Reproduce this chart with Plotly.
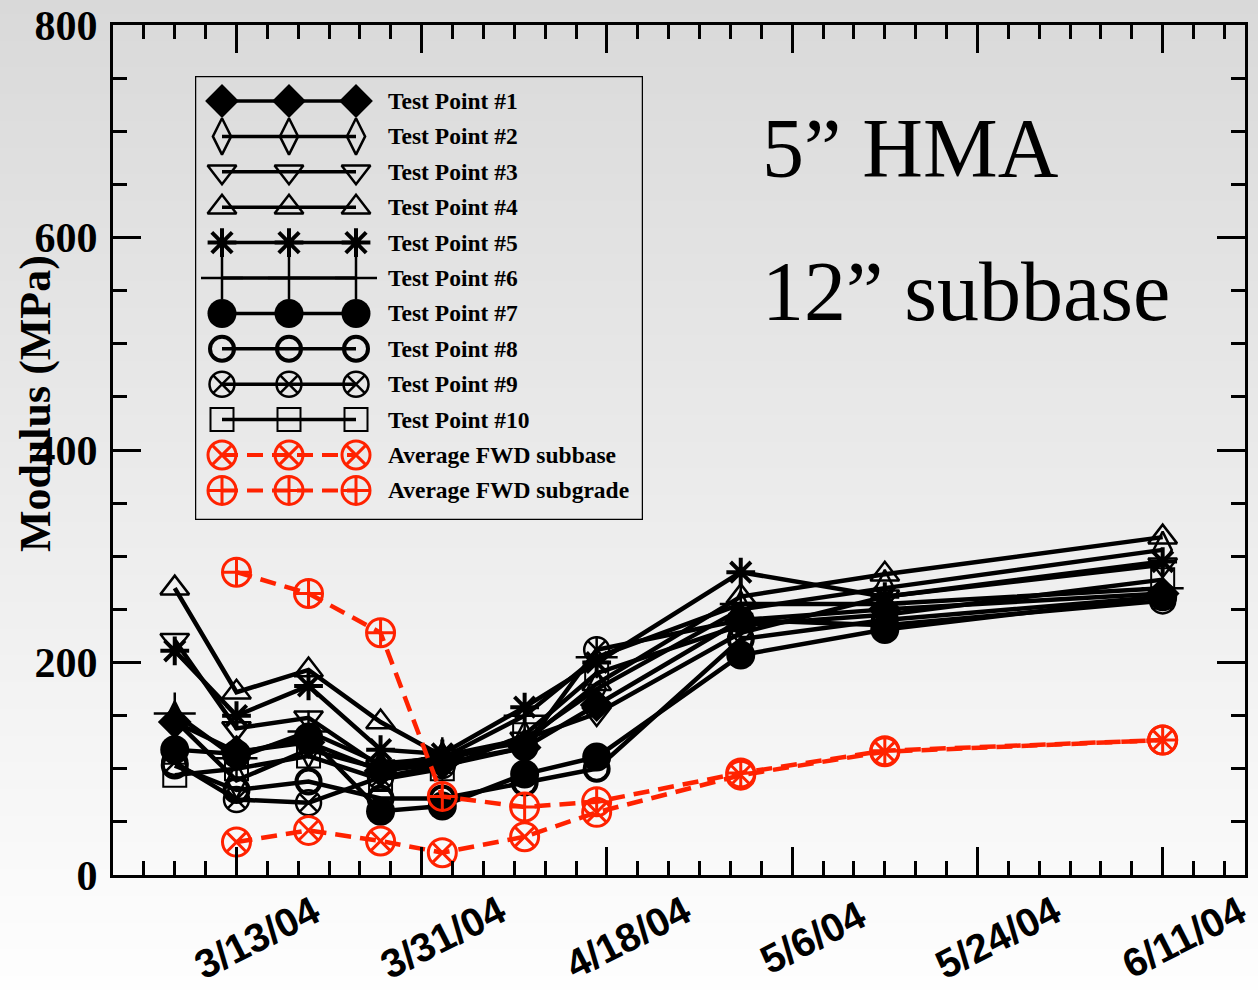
import base64
import struct
import zlib

import plotly.graph_objects as go

# ---------------- data ----------------
dates = ["2004-03-07", "2004-03-13", "2004-03-20", "2004-03-27", "2004-04-02",
         "2004-04-10", "2004-04-17", "2004-05-01", "2004-05-15", "2004-06-11"]
fwd_dates = dates[1:]

tp1 = [144, 116, 125, 98, 105, 120, 160, 240, 250, 265]
tp2 = [146, 89, 118, 100, 108, 128, 175, 250, 270, 306]
tp3 = [221, 138, 148, 102, 112, 128, 152, 228, 262, 292]
tp4 = [270, 172, 193, 144, 112, 125, 180, 262, 283, 318]
tp5 = [211, 150, 178, 118, 114, 158, 200, 285, 262, 295]
tp6 = [152, 110, 135, 105, 110, 150, 205, 255, 255, 270]
tp7 = [118, 114, 130, 60, 65, 95, 111, 207, 231, 262]
tp8 = [103, 80, 88, 72, 72, 87, 100, 222, 240, 262]
tp9 = [106, 71, 68, 92, 103, 120, 212, 240, 235, 258]
tp10 = [94, 100, 112, 90, 100, 132, 190, 235, 245, 278]

fwd_subbase = [31, 42, 32, 21, 36, 59, 94, 116, 127]
fwd_subgrade = [285, 265, 228, 74, 64, 69, 96, 117, 127]

series_names = ["Test Point #1", "Test Point #2", "Test Point #3", "Test Point #4",
                "Test Point #5", "Test Point #6", "Test Point #7", "Test Point #8",
                "Test Point #9", "Test Point #10", "Average FWD subbase",
                "Average FWD subgrade"]

tick_dates = ["2004-03-13", "2004-03-31", "2004-04-18", "2004-05-06", "2004-05-24", "2004-06-11"]
tick_labels = ["3/13/04", "3/31/04", "4/18/04", "5/6/04", "5/24/04", "6/11/04"]

# ---------------- styles ----------------
BLACK = "black"
RED = "#ff2200"
styles = [
    dict(symbol="diamond", size=26, color=BLACK, lw=0),
    dict(symbol="diamond-tall-open", size=26, color=BLACK, lw=2.5),
    dict(symbol="triangle-down-open", size=25, color=BLACK, lw=2.5),
    dict(symbol="triangle-up-open", size=25, color=BLACK, lw=2.5),
    dict(symbol="asterisk-open", size=24, color=BLACK, lw=4),
    dict(symbol="cross-thin-open", size=30, color=BLACK, lw=2.5),
    dict(symbol="circle", size=29, color=BLACK, lw=0),
    dict(symbol="circle-open", size=24, color=BLACK, lw=4),
    dict(symbol="circle-x-open", size=25, color=BLACK, lw=2.5),
    dict(symbol="square-open", size=23, color=BLACK, lw=2),
    dict(symbol="circle-x-open", size=28, color=RED, lw=3),
    dict(symbol="circle-cross-open", size=28, color=RED, lw=3),
]

all_y = [tp1, tp2, tp3, tp4, tp5, tp6, tp7, tp8, tp9, tp10, fwd_subbase, fwd_subgrade]
all_x = [dates] * 10 + [fwd_dates, fwd_dates]

fig = go.Figure()

for i, (xs, ys, st) in enumerate(zip(all_x, all_y, styles)):
    red = i >= 10
    fig.add_trace(go.Scatter(
        x=xs, y=ys, mode="lines+markers", name=series_names[i], showlegend=False,
        line=dict(color=st["color"], width=4.5 if red else 4.5,
                  dash="16px,9px" if red else "solid"),
        marker=dict(symbol=st["symbol"], size=st["size"], color=st["color"],
                    line=dict(color=st["color"], width=st["lw"])),
        cliponaxis=False,
    ))

# ---------------- custom legend (overlay axes) ----------------
leg_x = [222, 289, 356]
row_y0, row_dy = 101, 35.4
for i, st in enumerate(styles):
    yy = row_y0 + i * row_dy
    red = i >= 10
    fig.add_trace(go.Scatter(
        x=leg_x, y=[yy] * 3, xaxis="x2", yaxis="y2", mode="lines+markers",
        showlegend=False, hoverinfo="skip",
        line=dict(color=st["color"], width=4 if red else 3.5,
                  dash="16px,9px" if red else "solid"),
        marker=dict(symbol=st["symbol"], size=st["size"], color=st["color"],
                    line=dict(color=st["color"], width=st["lw"])),
    ))

annotations = []
for i, name in enumerate(series_names):
    annotations.append(dict(
        x=386, y=row_y0 + i * row_dy, xref="x2", yref="y2", text=name,
        showarrow=False, xanchor="left", yanchor="middle",
        font=dict(family="Liberation Serif", size=23.5, color="black", weight="bold")))

# x tick labels (rotated)
for d, lab in zip(tick_dates, tick_labels):
    annotations.append(dict(
        x=d, y=0, xref="x", yref="y", text=lab, showarrow=False,
        xanchor="center", yanchor="middle", xshift=21, yshift=-62, textangle=-27,
        font=dict(family="Liberation Sans", size=40, color="black", weight="bold")))

# y axis title
annotations.append(dict(
    x=0, y=0.554, xref="paper", yref="paper", text="Modulus (MPa)", showarrow=False,
    xanchor="center", yanchor="middle", xshift=-78, textangle=-90,
    font=dict(family="Liberation Serif", size=44, color="black", weight="bold")))

# big text
annotations.append(dict(
    x=0.5716, y=0.855, xref="paper", yref="paper", text="5\u201d HMA", showarrow=False,
    xanchor="left", yanchor="middle",
    font=dict(family="Liberation Serif", size=84, color="black")))
annotations.append(dict(
    x=0.5716, y=0.686, xref="paper", yref="paper", text="12\u201d subbase", showarrow=False,
    xanchor="left", yanchor="middle",
    font=dict(family="Liberation Serif", size=84, color="black")))

# ---------------- gradient background as PNG ----------------
def png_gray(vals, width=2):
    raw = b"".join(b"\x00" + bytes([v]) * width for v in vals)

    def chunk(t, d):
        return struct.pack(">I", len(d)) + t + d + struct.pack(">I", zlib.crc32(t + d) & 0xffffffff)

    ihdr = struct.pack(">IIBBBBB", width, len(vals), 8, 0, 0, 0, 0)
    return (b"\x89PNG\r\n\x1a\n" + chunk(b"IHDR", ihdr) +
            chunk(b"IDAT", zlib.compress(raw)) + chunk(b"IEND", b""))


H = 990
grad = [int(round(217 + (254 - 217) * (r / (H - 1)))) for r in range(H)]
uri = "data:image/png;base64," + base64.b64encode(png_gray(grad)).decode()

L, R, T, B = 113, 13, 25, 115
PW, PH = 1258 - L - R, 990 - T - B

fig.update_layout(
    width=1258, height=990,
    margin=dict(l=L, r=R, t=T, b=B, autoexpand=False),
    paper_bgcolor="white", plot_bgcolor="rgba(0,0,0,0)",
    images=[dict(source=uri, xref="paper", yref="paper", x=-L / PW, y=1 + T / PH,
                 sizex=1258 / PW, sizey=990 / PH, sizing="stretch",
                 xanchor="left", yanchor="top", layer="below")],
    xaxis=dict(type="date", range=["2004-03-01", "2004-06-19"], showline=True,
               linewidth=3, linecolor="black", mirror="ticks", ticks="inside",
               ticklen=28, tickwidth=3, tickcolor="black", tick0="2004-03-13",
               dtick=18 * 86400000, showticklabels=False, showgrid=False, zeroline=False,
               automargin=False,
               minor=dict(dtick=3 * 86400000, tick0="2004-03-13", ticks="inside",
                          ticklen=14, tickwidth=3, tickcolor="black", showgrid=False)),
    yaxis=dict(range=[0, 800], showline=True, linewidth=3, linecolor="black",
               mirror="ticks", ticks="inside", ticklen=28, tickwidth=3,
               tickcolor="black", tick0=0, dtick=200, showgrid=False, zeroline=False,
               automargin=False,
               tickfont=dict(family="Liberation Serif", size=42, color="black", weight="bold"),
               ticklabelstandoff=4,
               minor=dict(dtick=50, ticks="inside", ticklen=14, tickwidth=3,
                          tickcolor="black", showgrid=False)),
    xaxis2=dict(domain=[(195 - L) / PW, (643 - L) / PW], range=[195, 643],
                anchor="y2", visible=False, fixedrange=True),
    yaxis2=dict(domain=[(875 - 520) / PH, (875 - 76) / PH], range=[520, 76],
                anchor="x2", visible=False, fixedrange=True),
    shapes=[dict(type="rect", xref="x2", yref="y2", x0=195, x1=643, y0=76, y1=520,
                 line=dict(color="black", width=2.5), fillcolor="rgba(0,0,0,0)")],
    annotations=annotations,
)

fig.write_html("out.html")
